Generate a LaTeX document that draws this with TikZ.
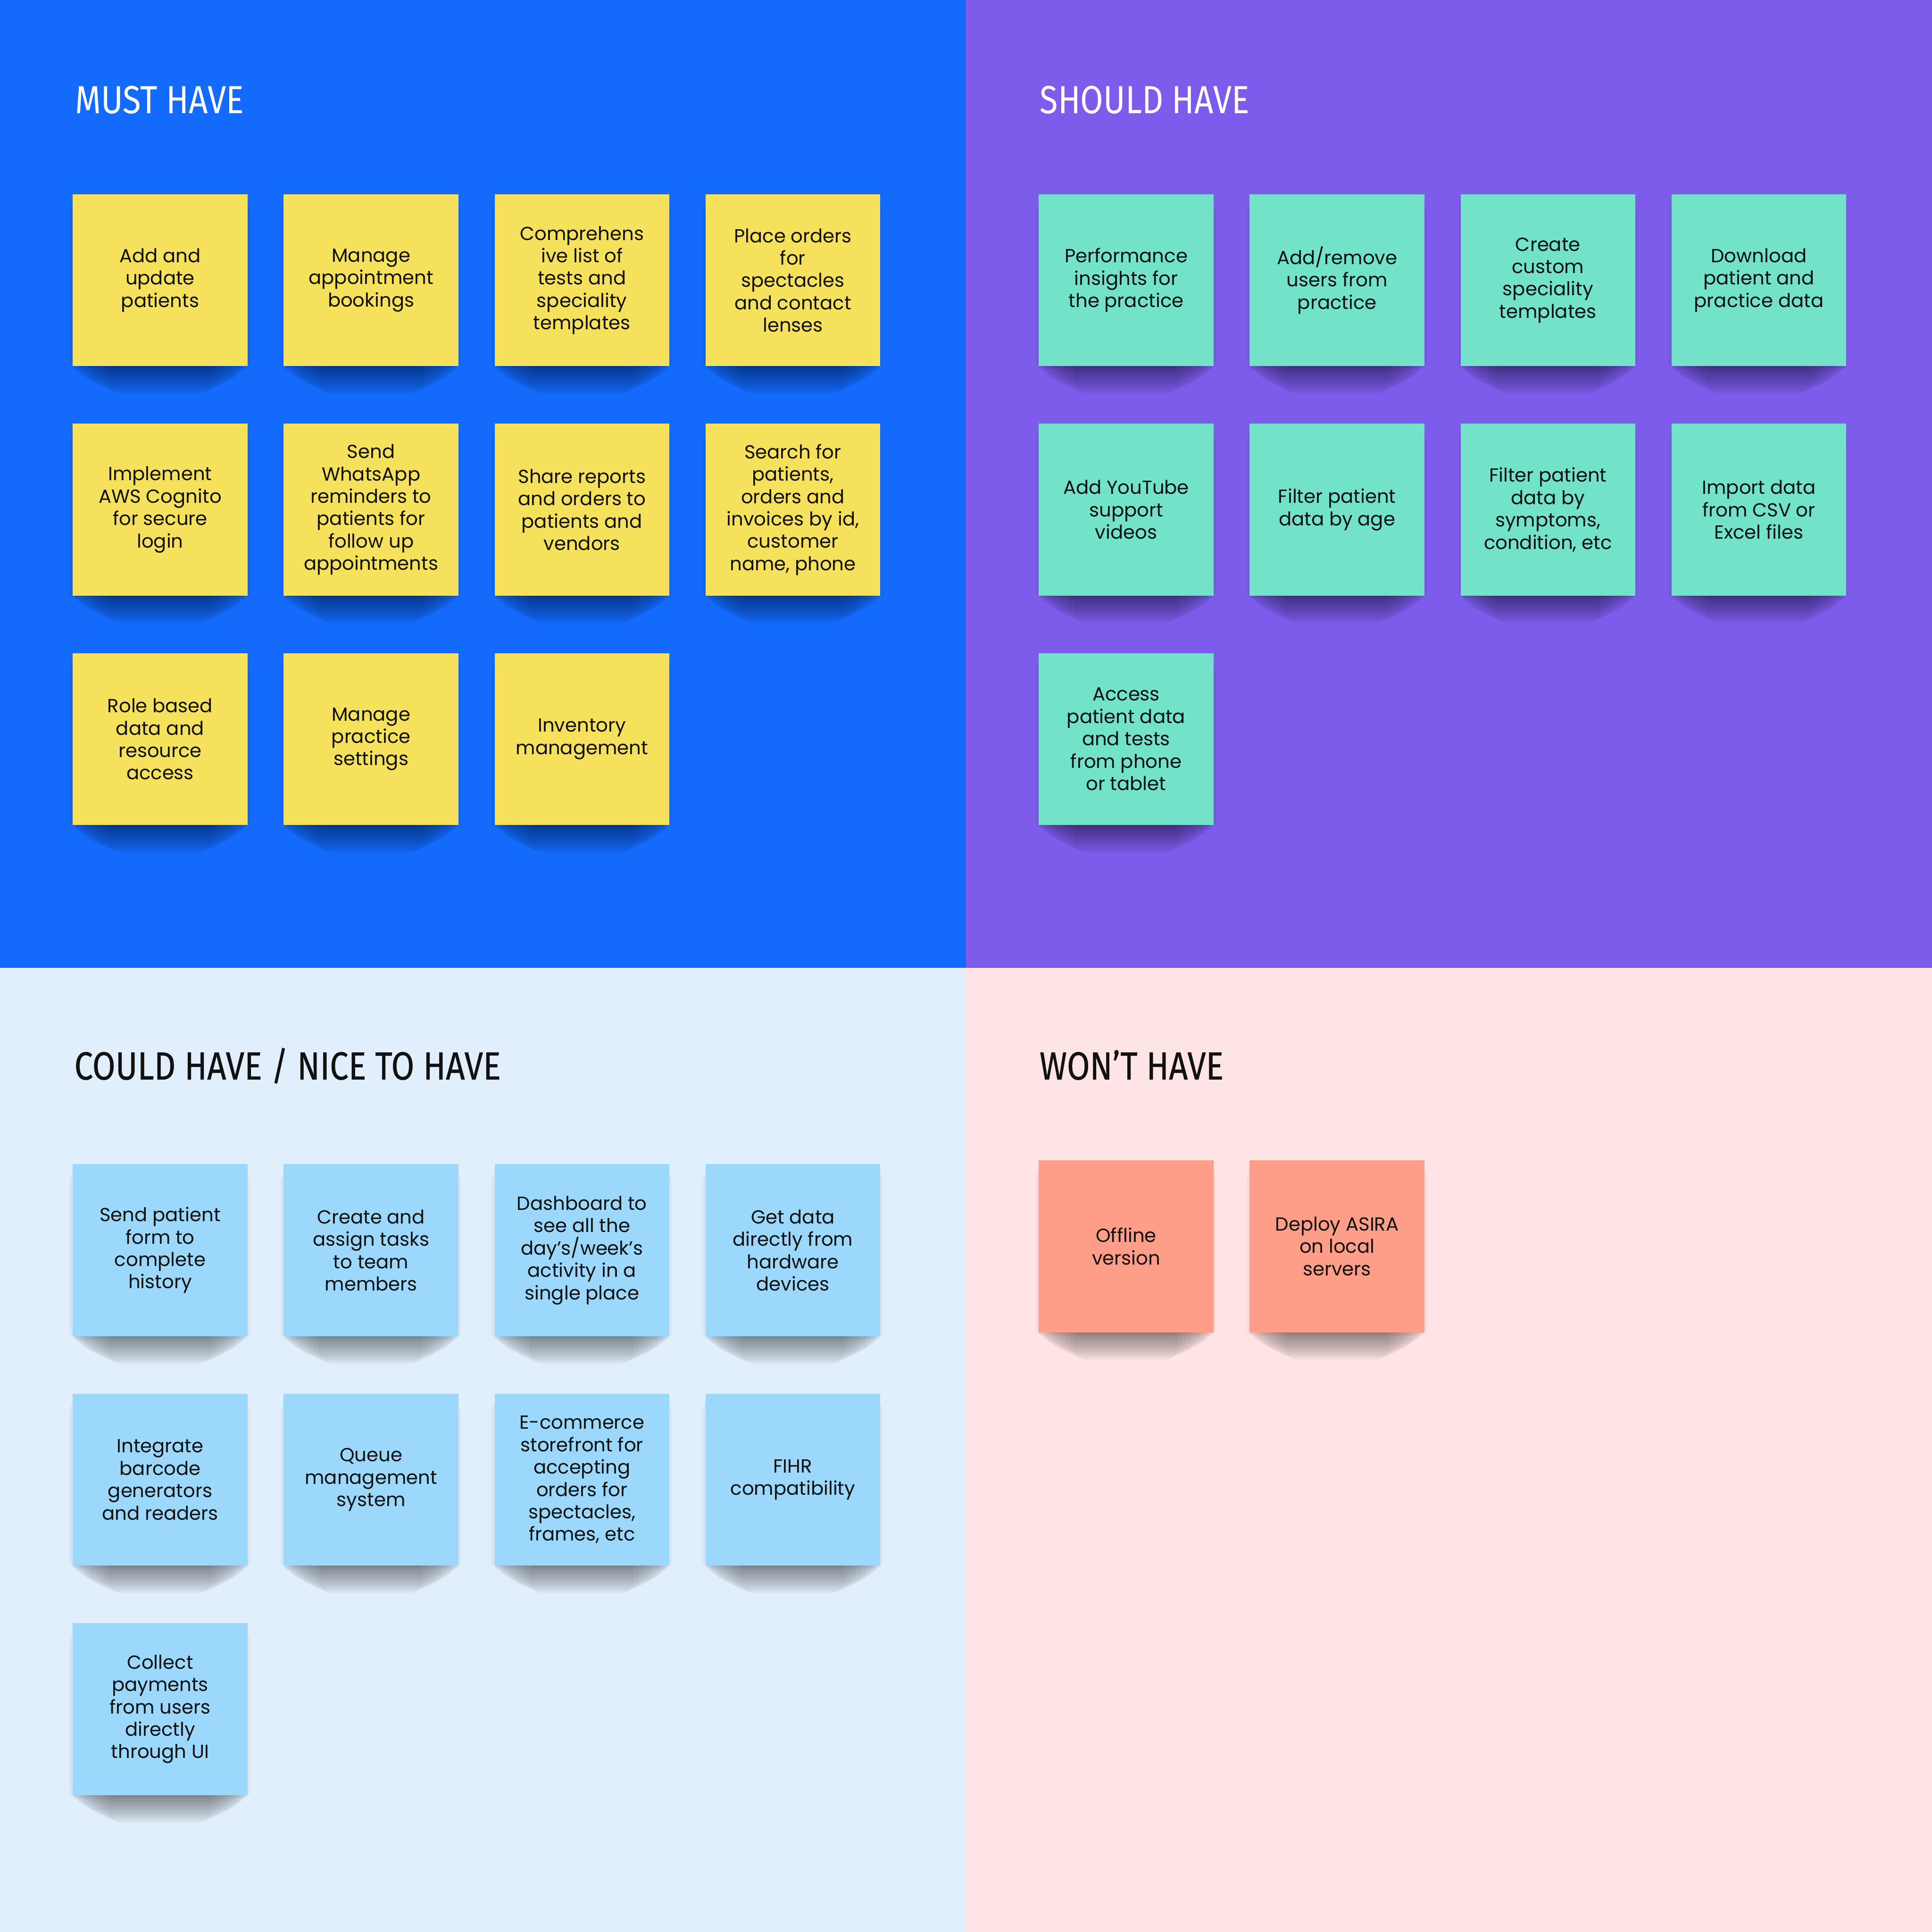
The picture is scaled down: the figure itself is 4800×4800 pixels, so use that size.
\documentclass[tikz,border=0pt]{standalone}
\usepackage{fontspec}
\usepackage{graphicx}
\setmainfont{Poppins}
\newfontfamily\titlefont{Fira Sans}
\newfontfamily\titlefontdark[FakeBold=0.6]{Fira Sans}
\definecolor{bgblue}{HTML}{136AFB}
\definecolor{bgpurple}{HTML}{7D5CEB}
\definecolor{bglight}{HTML}{E1EEFB}
\definecolor{bgpink}{HTML}{FFE4E5}
\definecolor{nyellow}{HTML}{F5E15C}
\definecolor{nteal}{HTML}{72E3C8}
\definecolor{nblue}{HTML}{9BD8FC}
\definecolor{nsalmon}{HTML}{FE9E88}
\definecolor{ink}{HTML}{111111}
\tikzset{
  note/.style={minimum width=4.34cm, minimum height=4.27cm, inner sep=0pt,
    align=center, text=ink, anchor=north west,
    font=\fontsize{13.4pt}{15.8pt}\selectfont},
  shadowlayer/.style={fill=black, fill opacity=0.036},
  sideshadow/.style={fill=black, fill opacity=0.022},
  titletext/.style={anchor=base west, inner sep=0pt},
}
\newcommand\fittitle[3]{\resizebox{#1}{\height}{\fontsize{27.7pt}{30pt}#2#3}}
\newcommand\stickynote[5]{%
  \foreach \i in {1,...,14}{\fill[shadowlayer, rounded corners={\i*0.75pt}] (#2+2*\i+0.3*\i*\i, #3+415) rectangle (#2+434-2*\i-0.3*\i*\i, #3+427+5*\i);}
  \fill[sideshadow, rounded corners=6pt] (#2-8,#3+25) rectangle (#2+442,#3+437);
  \fill[sideshadow, rounded corners=4pt] (#2-4,#3+15) rectangle (#2+438,#3+432);
  \node[note, fill=#4] (#1) at (#2,#3) {#5};
}
\begin{document}
\begin{tikzpicture}[x=0.01cm,y=-0.01cm]
\useasboundingbox (0,0) rectangle (4800,4800);
% quadrants
\fill[bgblue] (0,0) rectangle (2400,2405);
\fill[bgpurple] (2400,0) rectangle (4800,2405);
\fill[bglight] (0,2405) rectangle (2400,4800);
\fill[bgpink] (2400,2405) rectangle (4800,4800);

% titles
\node[titletext, text=white] (tmust) at (186,282) {\fittitle{4.19cm}{\titlefont}{MUST HAVE}};
\node[titletext, text=white] (tshould) at (2583,282) {\fittitle{5.20cm}{\titlefont}{SHOULD HAVE}};
\node[titletext, text=ink] (tcould) at (184,2682) {\fittitle{10.59cm}{\titlefontdark}{COULD HAVE / NICE TO HAVE}};
\node[titletext, text=ink] (twont) at (2582,2682) {\fittitle{4.57cm}{\titlefontdark}{WON’T HAVE}};

% MUST HAVE
\stickynote{m1}{180}{482}{nyellow}{Add and\\update\\patients}
\stickynote{m2}{704}{482}{nyellow}{Manage\\appointment\\bookings}
\stickynote{m3}{1228}{482}{nyellow}{Comprehens\\ive list of\\tests and\\speciality\\templates}
\stickynote{m4}{1752}{482}{nyellow}{Place orders\\for\\spectacles\\and contact\\lenses}
\stickynote{m5}{180}{1052}{nyellow}{Implement\\AWS Cognito\\for secure\\login}
\stickynote{m6}{704}{1052}{nyellow}{Send\\WhatsApp\\reminders to\\patients for\\follow up\\appointments}
\stickynote{m7}{1228}{1052}{nyellow}{Share reports\\and orders to\\patients and\\vendors}
\stickynote{m8}{1752}{1052}{nyellow}{Search for\\patients,\\orders and\\invoices by id,\\customer\\name, phone}
\stickynote{m9}{180}{1622}{nyellow}{Role based\\data and\\resource\\access}
\stickynote{m10}{704}{1622}{nyellow}{Manage\\practice\\settings}
\stickynote{m11}{1228}{1622}{nyellow}{Inventory\\management}

% SHOULD HAVE
\stickynote{s1}{2580}{482}{nteal}{Performance\\insights for\\the practice}
\stickynote{s2}{3104}{482}{nteal}{Add/remove\\users from\\practice}
\stickynote{s3}{3628}{482}{nteal}{Create\\custom\\speciality\\templates}
\stickynote{s4}{4152}{482}{nteal}{Download\\patient and\\practice data}
\stickynote{s5}{2580}{1052}{nteal}{Add YouTube\\support\\videos}
\stickynote{s6}{3104}{1052}{nteal}{Filter patient\\data by age}
\stickynote{s7}{3628}{1052}{nteal}{Filter patient\\data by\\symptoms,\\condition, etc}
\stickynote{s8}{4152}{1052}{nteal}{Import data\\from CSV or\\Excel files}
\stickynote{s9}{2580}{1622}{nteal}{Access\\patient data\\and tests\\from phone\\or tablet}

% COULD HAVE
\stickynote{c1}{180}{2892}{nblue}{Send patient\\form to\\complete\\history}
\stickynote{c2}{704}{2892}{nblue}{Create and\\assign tasks\\to team\\members}
\stickynote{c3}{1228}{2892}{nblue}{Dashboard to\\see all the\\day’s/week’s\\activity in a\\single place}
\stickynote{c4}{1752}{2892}{nblue}{Get data\\directly from\\hardware\\devices}
\stickynote{c5}{180}{3462}{nblue}{Integrate\\barcode\\generators\\and readers}
\stickynote{c6}{704}{3462}{nblue}{Queue\\management\\system}
\stickynote{c7}{1228}{3462}{nblue}{E-commerce\\storefront for\\accepting\\orders for\\spectacles,\\frames, etc}
\stickynote{c8}{1752}{3462}{nblue}{FIHR\\compatibility}
\stickynote{c9}{180}{4032}{nblue}{Collect\\payments\\from users\\directly\\through UI}

% WON'T HAVE
\stickynote{w1}{2580}{2882}{nsalmon}{Offline\\version}
\stickynote{w2}{3104}{2882}{nsalmon}{Deploy ASIRA\\on local\\servers}
\end{tikzpicture}
\end{document}
